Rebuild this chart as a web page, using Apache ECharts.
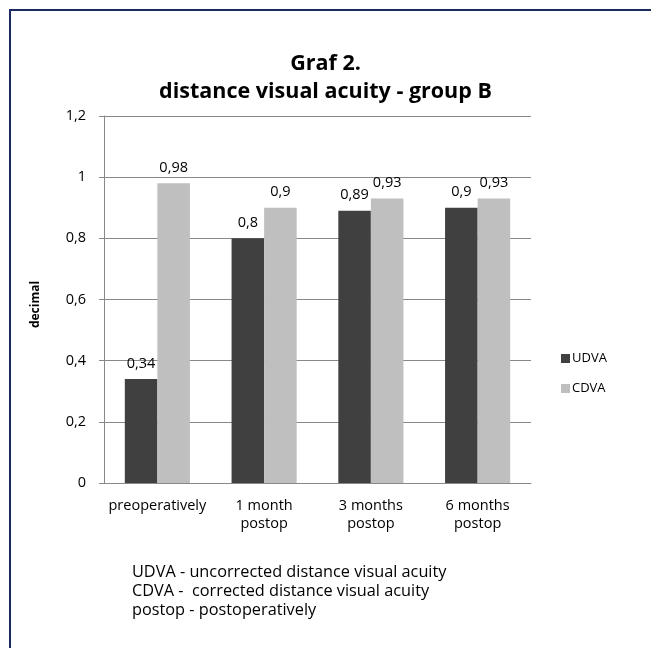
<!DOCTYPE html>
<html><head><meta charset="utf-8">
<script src="https://cdn.jsdelivr.net/npm/echarts@6/dist/echarts.min.js"></script>
<style>html,body{margin:0;padding:0;background:#fff}#c{width:651px;height:648px}</style>
</head><body><div id="c"></div>
<script>
const categories = ['preoperatively', '1 month\npostop', '3 months\npostop', '6 months\npostop'];
const udva = [0.34, 0.8, 0.89, 0.9];
const cdva = [0.98, 0.9, 0.93, 0.93];
const yTicks = [0, 0.2, 0.4, 0.6, 0.8, 1, 1.2];
const font = '"Open Sans", sans-serif';
const fmt = v => String(+v.toFixed(2)).replace('.', ',');
const chart = echarts.init(document.getElementById('c'));
chart.setOption({
  backgroundColor: '#fff',
  animation: false,
  title: {
    text: 'Graf 2.\ndistance visual acuity - group B',
    left: 'center', top: 45,
    textStyle: { fontFamily: font, fontWeight: 'bold', fontSize: 21.5, color: '#000', lineHeight: 28 }
  },
  legend: {
    orient: 'vertical', left: 556, top: 347, itemGap: 17,
    itemWidth: 9, itemHeight: 9, icon: 'rect',
    textStyle: { fontFamily: font, fontSize: 13, color: '#000', padding: [0, 0, 0, -3] },
    data: ['UDVA', 'CDVA']
  },
  grid: { left: 104, top: 116, width: 427, height: 367, containLabel: false },
  xAxis: {
    type: 'category', data: categories,
    axisLine: { lineStyle: { color: '#888' } },
    axisTick: { show: false },
    axisLabel: { interval: 0, fontFamily: font, fontSize: 14.5, color: '#000', margin: 14, lineHeight: 18 }
  },
  yAxis: {
    type: 'value', min: yTicks[0], max: yTicks[yTicks.length - 1], interval: 0.2,
    name: 'decimal', nameLocation: 'middle', nameGap: 62, nameRotate: 90,
    nameTextStyle: { fontFamily: font, fontWeight: 'bold', fontSize: 12, color: '#000', padding: [0, 10, 0, 0] },
    axisLine: { show: true, lineStyle: { color: '#888' } },
    axisTick: { show: true, length: 5, lineStyle: { color: '#888' } },
    splitLine: { lineStyle: { color: '#888' } },
    axisLabel: { fontFamily: font, fontSize: 14.5, color: '#000', margin: 18, formatter: v => fmt(v) }
  },
  series: [
    { name: 'UDVA', type: 'bar', data: udva, barGap: '0%', barCategoryGap: '39%',
      itemStyle: { color: '#404040' },
      label: { show: true, position: 'top', distance: 8, fontFamily: font, fontSize: 14.5, color: '#000', formatter: p => fmt(p.value) } },
    { name: 'CDVA', type: 'bar', data: cdva,
      itemStyle: { color: '#bfbfbf' },
      label: { show: true, position: 'top', distance: 8, fontFamily: font, fontSize: 14.5, color: '#000', formatter: p => fmt(p.value) } }
  ],
  graphic: [
    { type: 'rect', shape: { x: 10, y: 10, width: 680, height: 680 }, style: { fill: 'none', stroke: '#1a2a5e', lineWidth: 2 }, silent: true },
    { type: 'text', left: 132, top: 563,
      style: { text: 'UDVA - uncorrected distance visual acuity\nCDVA -  corrected distance visual acuity\npostop - postoperatively', fontFamily: font, fontSize: 16.3, lineHeight: 19, fill: '#000' } }
  ]
});
</script></body></html>
